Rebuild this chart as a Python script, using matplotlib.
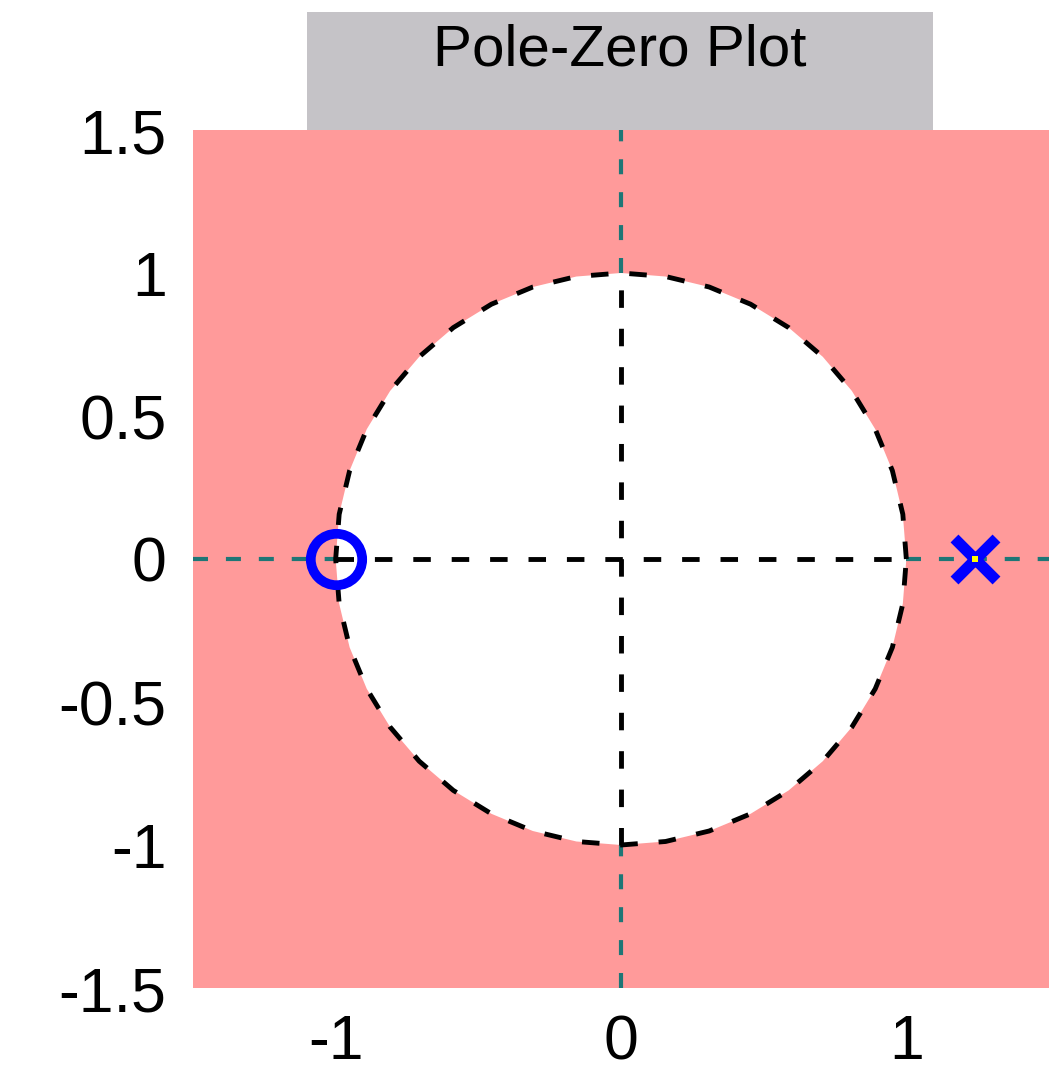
#!/usr/bin/env python3
"""Pole-zero plot with unit circle, MATLAB style."""

import numpy as np
import matplotlib
matplotlib.use("Agg")
import matplotlib.pyplot as plt
from matplotlib.patches import Rectangle, Polygon

# data
zeros_re = [-1.0]
zeros_im = [0.0]
poles_re = [1.24]
poles_im = [0.0]
ticks = [-1, 0, 1]
ytick_vals = [-1.5, -1, -0.5, 0, 0.5, 1, 1.5]
ytick_labels = ["-1.5", "-1", "-0.5", "0", "0.5", "1", "1.5"]
title = "Pole-Zero Plot"

PINK = "#FF9A9A"
GREY = "#C5C3C7"
TEAL = "#1E7676"

plt.rcParams["font.family"] = ["Liberation Sans", "DejaVu Sans"]

fig = plt.figure(figsize=(10.51, 10.73), dpi=100)
ax = fig.add_axes([193 / 1051, 85 / 1073, 856 / 1051, 858 / 1073])
ax.set_facecolor(PINK)

# unit circle (stable region) as a coarse polygon
th = np.linspace(0, 2 * np.pi, 41)
circ = np.column_stack([np.cos(th), np.sin(th)])
ax.add_patch(Polygon(circ, closed=True, facecolor="white", edgecolor="none", zorder=1))

dash = (0, (3.6, 4.3))
# teal axis lines outside the unit circle, black inside
for a, b in [(-1.5, -1), (1, 1.5)]:
    ax.plot([a, b], [0, 0], color=TEAL, lw=3, ls=dash, zorder=2)
    ax.plot([0, 0], [a, b], color=TEAL, lw=3, ls=dash, zorder=2)
ax.plot([-1, 1], [0, 0], color="black", lw=3.5, ls=dash, zorder=3)
ax.plot([0, 0], [-1, 1], color="black", lw=3.5, ls=dash, zorder=3)
ax.plot(circ[:, 0], circ[:, 1], color="black", lw=3.5, ls=dash, zorder=3)

ax.plot(zeros_re, zeros_im, "o", mfc="none", mec="blue", ms=37, mew=7, zorder=5)
ax.plot(poles_re, poles_im, "x", color="blue", ms=30, mew=8, zorder=5)
ax.plot(poles_re, poles_im, "s", color="yellow", ms=4, mew=0, zorder=6)

ax.set_xlim(-1.5, 1.5)
ax.set_ylim(-1.5, 1.5)
ax.set_xticks(ticks)
ax.set_xticklabels([str(t) for t in ticks])
ax.set_yticks(ytick_vals)
ax.set_yticklabels(ytick_labels)
ax.tick_params(length=0, labelsize=45)
ax.tick_params(axis="y", pad=19)
ax.tick_params(axis="x", pad=18)
for s in ax.spines.values():
    s.set_visible(False)

# title box above the axes
fig.patches.append(Rectangle((307 / 1051, 943 / 1073), 626 / 1051, 118 / 1073,
                             transform=fig.transFigure, facecolor=GREY,
                             edgecolor="none", zorder=0))
fig.text(620 / 1051, 1022 / 1073, title, ha="center", va="center", fontsize=42)

fig.savefig("out.png", dpi=100)
